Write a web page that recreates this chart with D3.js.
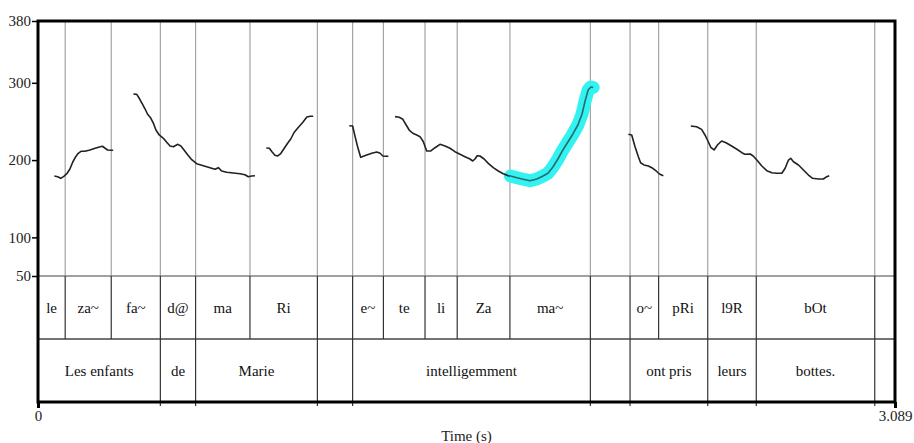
<!DOCTYPE html>
<html>
<head>
<meta charset="utf-8">
<script src="https://cdn.jsdelivr.net/npm/d3@7"></script>
<style>
  body { margin: 0; background: #fff; }
  svg text { font-family: "Liberation Serif", "Times New Roman", serif; }
</style>
</head>
<body>
<script>
// pitch track + two annotation tiers (syllables, words)

var w = 914, h = 443;
var tMax = 3.089;

// y axis ticks (Hz)
var yTicks = [50, 100, 200, 300, 380];
var xTickValues = [0, 3.089];
var xTickLabels = ["0", "3.089"];

// syllable tier: boundaries (s) and labels
var syllBounds = [0, 0.098, 0.264, 0.441, 0.568, 0.764, 1.007, 1.134, 1.245, 1.395, 1.511, 1.701, 1.991, 2.134, 2.237, 2.414, 2.589, 3.016, 3.089];
var syllLabels = ["le", "za~", "fa~", "d@", "ma", "Ri", "", "e~", "te", "li", "Za", "ma~", "", "o~", "pRi", "l9R", "bOt", ""];

// word tier
var wordBounds = [0, 0.441, 0.568, 1.007, 1.134, 1.991, 2.134, 2.414, 2.589, 3.016, 3.089];
var wordLabels = ["Les enfants", "de", "Marie", "", "intelligemment", "", "ont pris", "leurs", "bottes.", ""];

// F0 segments [time (s), Hz]
var f0LesEnfants = [[0.059,179.4],[0.071,178.5],[0.082,176.4],[0.093,179.0],[0.105,182.9],[0.115,188.5],[0.125,197.2],[0.136,204.4],[0.145,208.8],[0.155,211.4],[0.169,211.4],[0.187,213.1],[0.206,215.3],[0.221,217.0],[0.232,217.9],[0.242,215.3],[0.251,213.1],[0.263,212.7],[0.271,212.7]];
var f0DeMarie1 = [[0.344,285.5],[0.356,285.1],[0.365,280.0],[0.376,272.6],[0.386,266.1],[0.395,259.3],[0.407,254.1],[0.416,247.6],[0.425,238.9],[0.437,232.5],[0.452,228.2],[0.464,223.0],[0.476,218.2],[0.488,217.3],[0.504,220.4],[0.515,218.2],[0.527,212.7],[0.540,206.6],[0.554,200.5],[0.572,195.3],[0.590,193.3],[0.608,191.4],[0.626,189.4],[0.638,188.1],[0.650,190.2],[0.662,185.9],[0.680,184.2],[0.704,183.3],[0.728,182.4],[0.746,181.1],[0.758,178.5],[0.770,179.4],[0.782,179.8]];
var f0Ri = [[0.823,215.6],[0.834,215.3],[0.844,210.5],[0.854,206.2],[0.864,205.3],[0.875,208.5],[0.887,215.0],[0.899,221.5],[0.911,227.3],[0.923,235.7],[0.938,242.2],[0.954,248.7],[0.969,255.8],[0.981,256.7],[0.992,256.7]];
var f0In = [[1.122,244.5],[1.134,244.1],[1.143,230.3],[1.152,217.3],[1.163,203.6],[1.185,206.6],[1.203,208.8],[1.221,210.5],[1.233,208.8],[1.243,205.3],[1.251,204.9],[1.263,204.9]];
var f0TeliZa = [[1.287,256.2],[1.302,255.4],[1.315,252.8],[1.327,245.4],[1.338,238.9],[1.351,234.7],[1.365,232.5],[1.377,230.3],[1.389,223.8],[1.401,211.8],[1.416,211.8],[1.431,216.0],[1.449,220.4],[1.467,218.2],[1.485,215.3],[1.503,210.9],[1.521,207.5],[1.539,204.4],[1.557,201.4],[1.567,198.8],[1.575,201.4],[1.583,205.7],[1.593,205.3],[1.608,201.4],[1.623,195.8],[1.641,190.2],[1.659,185.9],[1.677,182.4],[1.695,179.8],[1.703,179.4]];
var f0Ma = [[1.703,179.4],[1.723,177.5],[1.745,175.5],[1.773,173.3],[1.798,175.5],[1.817,178.8],[1.838,182.9],[1.856,191.1],[1.874,201.4],[1.892,213.1],[1.910,223.4],[1.928,233.8],[1.946,245.4],[1.961,259.7],[1.972,276.5],[1.983,290.7],[1.993,294.6],[2.001,293.9]];
var f0Ont = [[2.128,233.4],[2.140,232.5],[2.152,217.3],[2.164,204.4],[2.172,196.6],[2.184,193.7],[2.200,192.4],[2.216,189.4],[2.228,185.9],[2.240,182.0],[2.254,179.8]];
var f0Bottes = [[2.353,244.1],[2.374,243.2],[2.392,239.8],[2.404,232.5],[2.413,226.0],[2.425,216.6],[2.437,213.1],[2.449,219.5],[2.464,224.7],[2.480,222.5],[2.500,218.2],[2.519,214.0],[2.537,209.6],[2.548,207.5],[2.567,207.9],[2.578,205.3],[2.591,200.1],[2.609,192.4],[2.627,186.3],[2.645,183.7],[2.663,182.9],[2.681,182.9],[2.693,189.4],[2.705,200.1],[2.713,202.3],[2.723,197.9],[2.741,193.7],[2.759,187.2],[2.777,180.7],[2.792,176.4],[2.813,175.5],[2.831,175.5],[2.843,178.5],[2.852,179.8]];

var segments = [f0LesEnfants, f0DeMarie1, f0Ri, f0In, f0TeliZa, f0Ma, f0Ont, f0Bottes];

var plotLeft = 38, plotRight = 895, plotTop = 21, pitchBottom = 276, tierMid = 339, plotBottom = 402;

var x = d3.scaleLinear().domain([0, tMax]).range([plotLeft, plotRight]);
var y = d3.scaleLinear().domain([50, 380]).range([pitchBottom, plotTop]);

var svg = d3.select("body")
  .append("svg")
  .attr("width", w)
  .attr("height", h)
  .attr("font-family", "Liberation Serif, serif");

// boundary lines through the pitch area
svg.selectAll("line.grid")
  .data(syllBounds.slice(1, -1))
  .enter()
  .append("line")
  .attr("class", "grid")
  .attr("x1", function(d){ return x(d); })
  .attr("x2", function(d){ return x(d); })
  .attr("y1", plotTop)
  .attr("y2", pitchBottom)
  .attr("stroke", "#a4a4a4")
  .attr("stroke-width", 1.2);

// 50 Hz line
svg.append("line")
  .attr("x1", plotLeft).attr("x2", plotRight)
  .attr("y1", pitchBottom).attr("y2", pitchBottom)
  .attr("stroke", "#808080")
  .attr("stroke-width", 1.5);

// tier separator
svg.append("line")
  .attr("x1", plotLeft).attr("x2", plotRight)
  .attr("y1", tierMid).attr("y2", tierMid)
  .attr("stroke", "#444")
  .attr("stroke-width", 1.5);

// syllable boundaries
svg.selectAll("line.syll")
  .data(syllBounds.slice(1, -1))
  .enter()
  .append("line")
  .attr("class", "syll")
  .attr("x1", function(d){ return x(d); })
  .attr("x2", function(d){ return x(d); })
  .attr("y1", pitchBottom)
  .attr("y2", tierMid)
  .attr("stroke", "#333")
  .attr("stroke-width", 1.2);

// word boundaries (with small ticks below the frame)
svg.selectAll("line.word")
  .data(wordBounds.slice(1, -1))
  .enter()
  .append("line")
  .attr("class", "word")
  .attr("x1", function(d){ return x(d); })
  .attr("x2", function(d){ return x(d); })
  .attr("y1", tierMid)
  .attr("y2", plotBottom + 4)
  .attr("stroke", "#333")
  .attr("stroke-width", 1.2);

// tier labels
var syllData = syllLabels.map(function(l, i){ return {label: l, t0: syllBounds[i], t1: syllBounds[i + 1]}; });
var wordData = wordLabels.map(function(l, i){ return {label: l, t0: wordBounds[i], t1: wordBounds[i + 1]}; });

svg.selectAll("text.syll")
  .data(syllData)
  .enter()
  .append("text")
  .attr("class", "syll")
  .attr("x", function(d){ return (x(d.t0) + x(d.t1)) / 2; })
  .attr("y", (pitchBottom + tierMid) / 2)
  .attr("dy", "0.35em")
  .attr("text-anchor", "middle")
  .attr("font-size", 15)
  .attr("fill", "#111")
  .text(function(d){ return d.label; });

svg.selectAll("text.word")
  .data(wordData)
  .enter()
  .append("text")
  .attr("class", "word")
  .attr("x", function(d){ return (x(d.t0) + x(d.t1)) / 2; })
  .attr("y", (tierMid + plotBottom) / 2)
  .attr("dy", "0.35em")
  .attr("text-anchor", "middle")
  .attr("font-size", 15)
  .attr("fill", "#111")
  .text(function(d){ return d.label; });

// pitch curves
var line = d3.line()
  .x(function(d){ return x(d[0]); })
  .y(function(d){ return y(d[1]); })
  .curve(d3.curveLinear);

// highlighted syllable
svg.append("path")
  .attr("d", line(f0Ma))
  .attr("fill", "none")
  .attr("stroke", "#33f2f2")
  .attr("stroke-width", 13)
  .attr("stroke-linejoin", "round")
  .attr("stroke-linecap", "round");

svg.selectAll("path.f0")
  .data(segments)
  .enter()
  .append("path")
  .attr("class", "f0")
  .attr("d", line)
  .attr("fill", "none")
  .attr("stroke", function(d){ return d === f0Ma ? "#2a6a6a" : "#222"; })
  .attr("stroke-width", 1.6)
  .attr("stroke-linejoin", "round");

// frame
svg.append("rect")
  .attr("x", plotLeft).attr("y", plotTop)
  .attr("width", plotRight - plotLeft).attr("height", plotBottom - plotTop)
  .attr("fill", "none")
  .attr("stroke", "#000")
  .attr("stroke-width", 3);

// y axis
var yAxis = svg.append("g")
  .attr("transform", "translate(" + (plotLeft - 1) + ",0)")
  .call(d3.axisLeft(y).tickValues(yTicks).tickSize(5).tickPadding(1));
yAxis.select(".domain").remove();
yAxis.selectAll("line").attr("stroke", "#000").attr("stroke-width", 1.5);
yAxis.selectAll("text")
  .attr("font-family", "Liberation Serif, serif")
  .attr("font-size", 15)
  .attr("fill", "#222");

// x axis
var xAxis = svg.append("g")
  .attr("transform", "translate(0," + plotBottom + ")")
  .call(d3.axisBottom(x).tickValues(xTickValues)
    .tickFormat(function(d, i){ return xTickLabels[i]; })
    .tickSize(6).tickPadding(2));
xAxis.select(".domain").remove();
xAxis.selectAll("line").attr("stroke", "#000").attr("stroke-width", 3);
xAxis.selectAll("text")
  .attr("font-family", "Liberation Serif, serif")
  .attr("font-size", 15)
  .attr("fill", "#222");

svg.append("text")
  .attr("x", (plotLeft + plotRight) / 2)
  .attr("y", 441)
  .attr("text-anchor", "middle")
  .attr("font-size", 15)
  .attr("fill", "#222")
  .text("Time (s)");
</script>
</body>
</html>
